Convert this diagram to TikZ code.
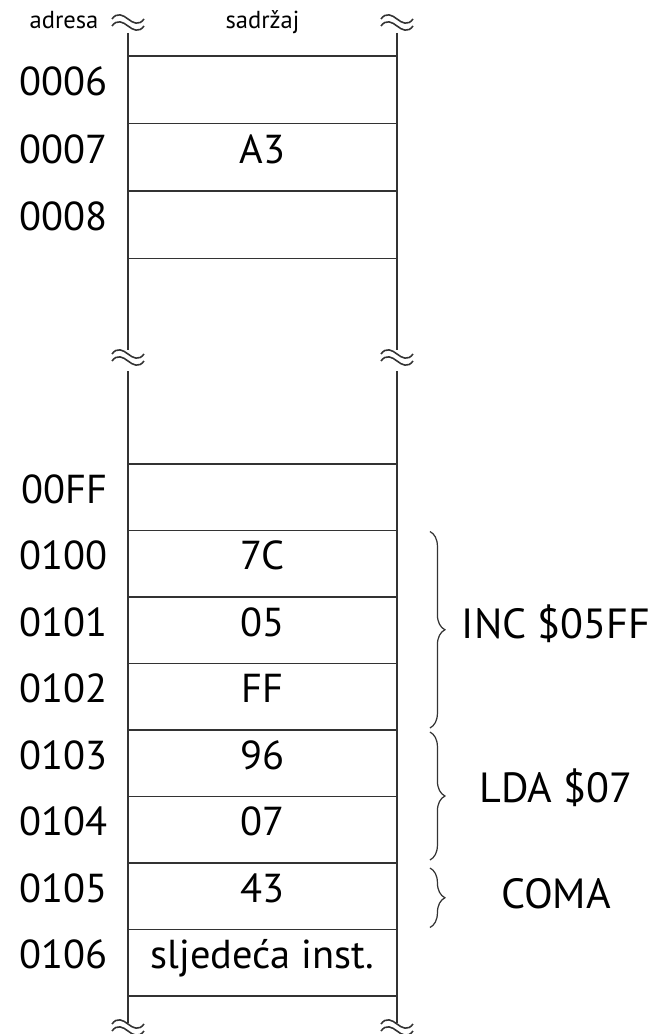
\documentclass[tikz,border=0pt]{standalone}
\usepackage{fontspec}
\setmainfont{PT Sans}
\usetikzlibrary{decorations.pathreplacing}

\newcommand*{\xleft}{128}
\newcommand*{\xright}{397}
\newcommand*{\xmid}{262.5}
\newcommand*{\xaddr}{108}
\newcommand*{\xinstr}{556}

\begin{document}
\begin{tikzpicture}
[
	x=0.02cm, y=-0.02cm,
	cell/.style={draw=black!80,line width=1.1pt,minimum width=5.38cm,inner sep=0pt,outer sep=0pt,
		text height=0.7em,text depth=0pt,font=\fontsize{23}{26}\selectfont},
	tallcell/.style={cell,minimum height=1.35cm},
	lowcell/.style={cell,minimum height=1.33cm},
	addr/.style={anchor=east,inner sep=0pt,text height=0.7em,text depth=0pt,font=\fontsize{23}{26}\selectfont},
	head/.style={anchor=base,inner sep=0pt,font=\fontsize{14}{16}\selectfont},
	instr/.style={inner sep=0pt,text height=0.7em,text depth=0pt,font=\fontsize{24}{28}\selectfont},
	wall/.style={black!80,line width=1.1pt},
	brc/.style={decorate,decoration={brace,amplitude=8.5pt},black!80,line width=0.7pt},
	brkmark/.pic={
		\foreach \d in {-4,3} {
			\draw[black!80,line width=0.9pt,yshift=\d*-0.02cm]
			  (-16,-2) .. controls (-11,-9) and (-5,-6) .. (0,-2)
			  .. controls (5,2) and (11,5) .. (16,-2);
		}
	}
]

	\useasboundingbox (0,0) rectangle (659,1034);

	% headings
	\node[head] (hadr) at (64,29) {adresa};
	\node[head] (hcont) at (\xmid,29) {sadržaj};

	% walls with breaks
	\foreach \x in {\xleft,\xright} {
		\draw[wall] (\x,33) -- (\x,350);
		\draw[wall] (\x,371) -- (\x,1023);
		\pic at (\x,25) {brkmark};
		\pic at (\x,360) {brkmark};
		\pic at (\x,1030) {brkmark};
	}

	% upper cells
	\foreach \a/\v [count=\i] in {0006/{},0007/A3,0008/{}} {
		\node[tallcell] (c\a) at (\xmid,{56+67.5*(\i-0.5)}) {\v};
		\node[addr] (a\a) at (\xaddr,{56+67.5*(\i-0.5)}) {\a};
	}

	% lower cells
	\foreach \a/\v [count=\i] in {00FF/{},0100/7C,0101/05,0102/FF,0103/96,0104/07,0105/43,0106/sljedeća inst.} {
		\node[lowcell] (c\a) at (\xmid,{464+66.5*(\i-0.5)}) {\v};
		\node[addr] (a\a) at (\xaddr,{464+66.5*(\i-0.5)}) {\a};
	}

	% instructions
	\draw[brc] ([xshift=0.66cm,yshift=-0.02cm]c0100.north east) -- ([xshift=0.66cm,yshift=0.04cm]c0102.south east);
	\draw[brc] ([xshift=0.66cm,yshift=-0.04cm]c0103.north east) -- ([xshift=0.66cm,yshift=0.06cm]c0104.south east);
	\draw[brc] ([xshift=0.66cm,yshift=-0.1cm]c0105.north east) -- ([xshift=0.66cm,yshift=0.04cm]c0105.south east);

	\node[instr] (inc) at (\xinstr,632) {INC \$05FF};
	\node[instr] (lda) at (\xinstr,796) {LDA \$07};
	\node[instr] (coma) at (\xinstr,902) {COMA};

\end{tikzpicture}
\end{document}
